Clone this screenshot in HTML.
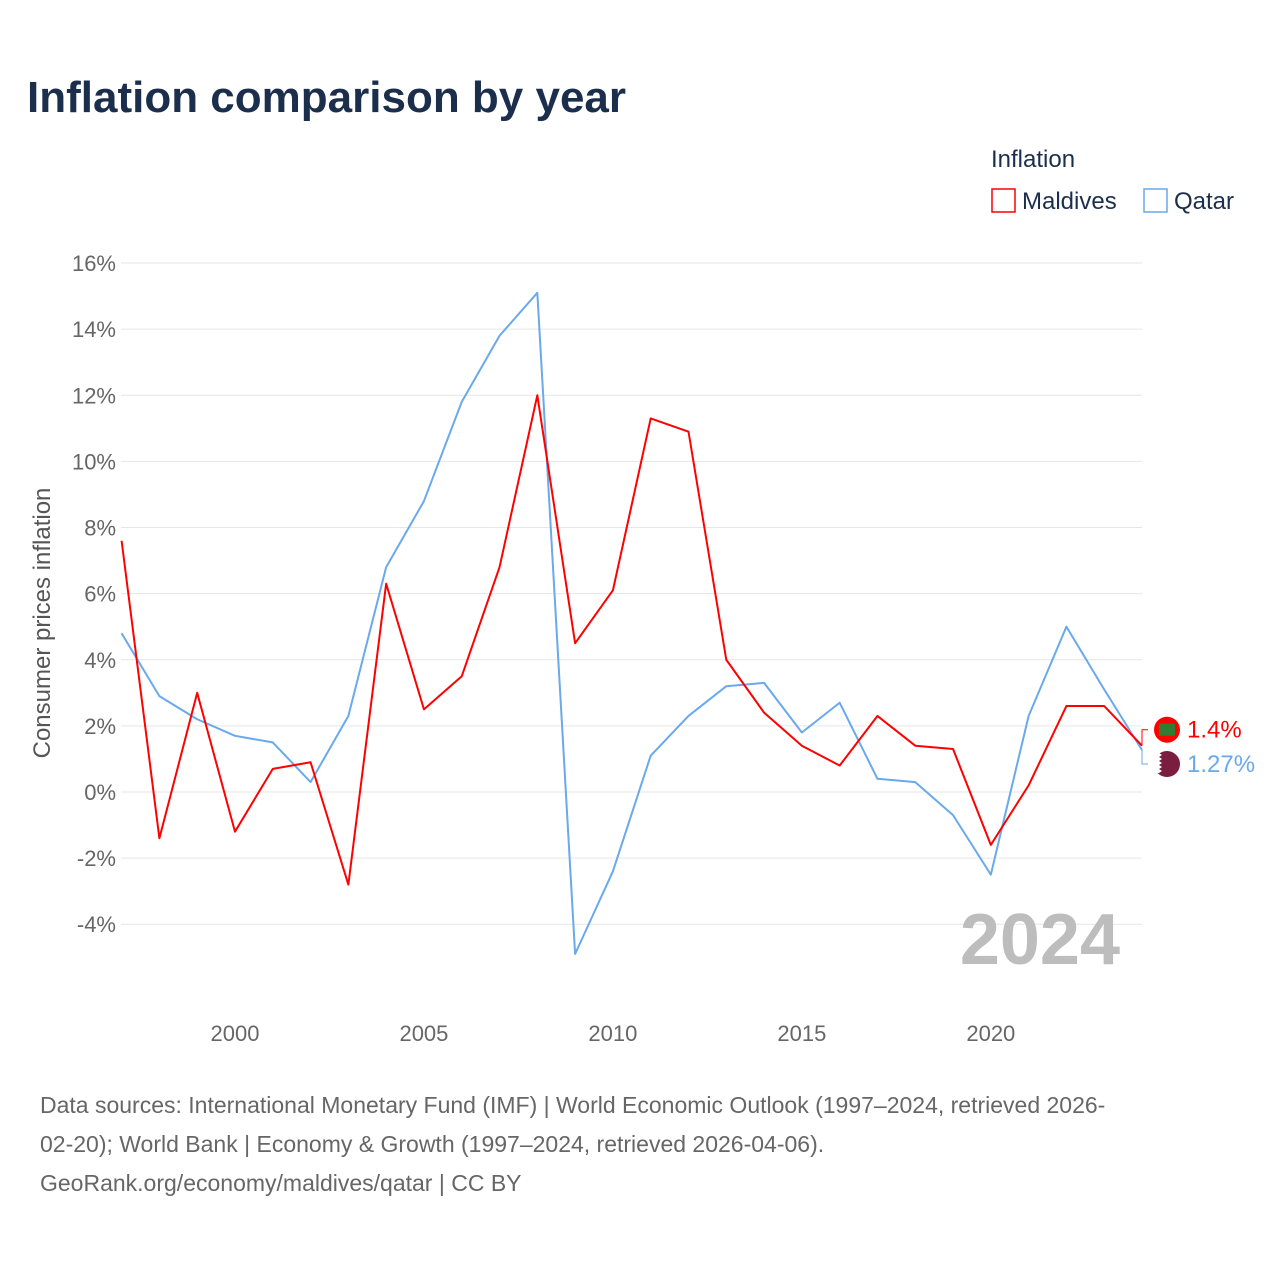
<!DOCTYPE html>
<html><head><meta charset="utf-8"><style>
body{margin:0;background:#fff;font-family:"Liberation Sans",sans-serif;}
#wrap{position:relative;width:1280px;height:1280px;overflow:hidden;}
</style></head><body>
<div id="wrap">
<svg id="chart" width="1280" height="1280">
<text x="27" y="112" font-size="44" font-weight="bold" fill="#1b2f4d">Inflation comparison by year</text>
<g>
<text x="991" y="167" font-size="24" fill="#1b2f4d">Inflation</text>
<g><rect x="992" y="189" width="23" height="23" fill="none" stroke="#ff0000" stroke-width="1.5"/><text x="1022" y="209" font-size="24" fill="#1b2f4d">Maldives</text></g>
<g><rect x="1144" y="189" width="23" height="23" fill="none" stroke="#69a9ec" stroke-width="1.5"/><text x="1174" y="209" font-size="24" fill="#1b2f4d">Qatar</text></g>
</g>
<g id="grid"></g>
<g id="yticks"></g>
<g id="xticks"></g>
<text x="0" y="0" transform="translate(50,623) rotate(-90)" text-anchor="middle" font-size="24" fill="#555">Consumer prices inflation</text>
<text x="1120" y="964" text-anchor="end" font-size="72" font-weight="bold" fill="#bdbdbd">2024</text>
<g id="series"></g>
<text x="40" y="1113" font-size="23" fill="#666">Data sources: International Monetary Fund (IMF) | World Economic Outlook (1997–2024, retrieved 2026-</text>
<text x="40" y="1152" font-size="23" fill="#666">02-20); World Bank | Economy &amp; Growth (1997–2024, retrieved 2026-04-06).</text>
<text x="40" y="1191" font-size="23" fill="#666">GeoRank.org/economy/maldives/qatar | CC BY</text>
</svg>
</div>
<script>
const years=[1997,1998,1999,2000,2001,2002,2003,2004,2005,2006,2007,2008,2009,2010,2011,2012,2013,2014,2015,2016,2017,2018,2019,2020,2021,2022,2023,2024];
const maldives=[7.6,-1.4,3.0,-1.2,0.7,0.9,-2.8,6.3,2.5,3.5,6.8,12.0,4.5,6.1,11.3,10.9,4.0,2.4,1.4,0.8,2.3,1.4,1.3,-1.6,0.2,2.6,2.6,1.4];
const qatar=[4.8,2.9,2.2,1.7,1.5,0.3,2.3,6.8,8.8,11.8,13.8,15.1,-4.9,-2.4,1.1,2.3,3.2,3.3,1.8,2.7,0.4,0.3,-0.7,-2.5,2.3,5.0,3.1,1.27];
const yTicks=[-4,-2,0,2,4,6,8,10,12,14,16];
const xTicks=[2000,2005,2010,2015,2020];
const NS="http://www.w3.org/2000/svg";
const x=v=>121.6+(v-1997)*(1142-121.6)/27;
const y=v=>792-v*33.06;
function mk(t,a,p){const e=document.createElementNS(NS,t);for(const k in a)e.setAttribute(k,a[k]);p.appendChild(e);return e;}
const grid=document.getElementById('grid'),yt=document.getElementById('yticks'),xt=document.getElementById('xticks'),ser=document.getElementById('series');
yTicks.forEach(v=>{
 const l=mk('line',{x1:121,x2:1142,y1:y(v),y2:y(v),stroke:'#e6e6e6','stroke-width':1},grid);
 
 
 const t=mk('text',{x:116,y:y(v)+8,'text-anchor':'end','font-size':22,fill:'#666'},yt);
 t.textContent=v+'%';
 
 
});
xTicks.forEach(v=>{
 const t=mk('text',{x:x(v),y:1041,'text-anchor':'middle','font-size':22,fill:'#666'},xt);
 t.textContent=v;
 
 
});
function line(vals,color,name){
 const p=mk('polyline',{points:vals.map((v,i)=>x(years[i])+','+y(v)).join(' '),fill:'none',stroke:color,'stroke-width':2,'stroke-linejoin':'round'},ser);
 
 
}
line(qatar,'#69a9ec','qatar-line');
line(maldives,'#ff0000','maldives-line');
const lm=maldives[maldives.length-1],lq=qatar[qatar.length-1];
const ym=Math.min(y(lm),y(lq))-16,yq=Math.max(y(lq),y(lm))+14;
const lx=x(2024);
mk('polyline',{points:`${lx},${y(lm)} ${lx},${ym} ${lx+6},${ym}`,fill:'none',stroke:'#ff0000','stroke-width':1},ser);
mk('polyline',{points:`${lx},${y(lq)} ${lx},${yq} ${lx+6},${yq}`,fill:'none',stroke:'#69a9ec','stroke-width':1},ser);
const fm=mk('circle',{cx:1167,cy:ym,r:13,fill:'#ff0000'},ser);


mk('rect',{x:1159,y:ym-6,width:16,height:12,fill:'#2e7d32'},ser);
const fq=mk('circle',{cx:1167,cy:yq,r:13,fill:'#7a1d3f'},ser);


mk('path',{d:`M1154 ${yq-11} h5 l3 2 -3 2 3 2 -3 2 3 2 -3 2 3 2 -3 2 3 2 -3 2 h-5z`,fill:'#fff'},ser);
const tm=mk('text',{x:1187,y:ym+8,'font-size':24,fill:'#ff0000'},ser);
tm.textContent=lm+'%';


const tq=mk('text',{x:1187,y:yq+8,'font-size':24,fill:'#69a9ec'},ser);
tq.textContent=lq+'%';


</script>
</body></html>
